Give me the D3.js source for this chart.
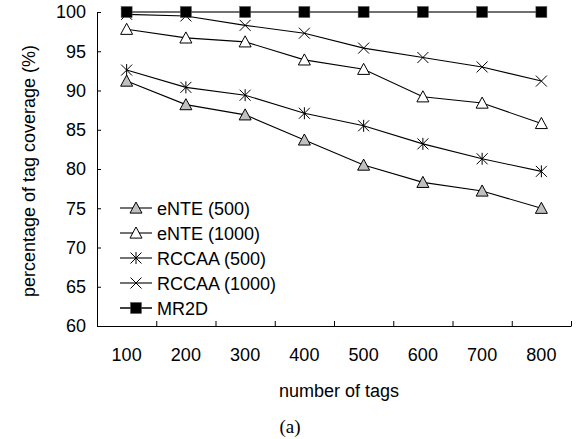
<!DOCTYPE html>
<html><head><meta charset="utf-8">
<script src="https://cdn.jsdelivr.net/npm/d3@7"></script>
<style>
body{margin:0;background:#fff;}
text{font-family:"Liberation Sans",Arial,sans-serif;}
</style></head>
<body><svg id="c" width="584" height="439"></svg>
<script>
const categories = ["100","200","300","400","500","600","700","800"];
const eNTE500   = [91.2, 88.2, 86.9, 83.7, 80.5, 78.3, 77.2, 75.0];
const eNTE1000  = [97.8, 96.7, 96.2, 93.9, 92.7, 89.2, 88.4, 85.8];
const RCCAA500  = [92.6, 90.4, 89.4, 87.1, 85.5, 83.2, 81.3, 79.7];
const RCCAA1000 = [99.7, 99.5, 98.3, 97.3, 95.4, 94.2, 93.0, 91.2];
const MR2D      = [100, 100, 100, 100, 100, 100, 100, 100];
const yTicks = [60,65,70,75,80,85,90,95,100];
const seriesNames = ["eNTE (500)","eNTE (1000)","RCCAA (500)","RCCAA (1000)","MR2D"];

const series = [
  {name:seriesNames[0], values:eNTE500,  marker:"triFill"},
  {name:seriesNames[1], values:eNTE1000, marker:"tri"},
  {name:seriesNames[2], values:RCCAA500, marker:"star"},
  {name:seriesNames[3], values:RCCAA1000,marker:"cross"},
  {name:seriesNames[4], values:MR2D,     marker:"square"}
];

const FS = 18;
const svg = d3.select("#c");
const L=97, R=571, T=12, B=326;
const x = d3.scaleBand().domain(categories).range([L,R]).padding(0);
const xEdge = d3.scaleLinear().domain([0,categories.length]).range([L,R]);
const y = d3.scaleLinear().domain([60,100]).range([B,T]);

// y axis
const ya = svg.append("g").attr("transform",`translate(${L},0)`)
  .call(d3.axisLeft(y).tickValues(yTicks).tickSize(-4).tickPadding(11).tickSizeOuter(0));
ya.select(".domain").attr("stroke","#000");
ya.selectAll(".tick line").attr("stroke","#000");
ya.selectAll("text").attr("font-size",FS).attr("fill","#000").attr("font-family","Liberation Sans, Arial, sans-serif");

// x axis ticks (band edges)
const xa = svg.append("g").attr("transform",`translate(0,${B})`)
  .call(d3.axisBottom(xEdge).tickValues(d3.range(1,categories.length+1)).tickSize(-5).tickFormat("").tickSizeOuter(0));
xa.select(".domain").attr("stroke","#000");
xa.selectAll(".tick line").attr("stroke","#000");
// x labels
const xl = svg.append("g").attr("transform",`translate(0,${B})`)
  .call(d3.axisBottom(x).tickSize(0).tickPadding(22));
xl.select(".domain").remove();
xl.selectAll("text").attr("font-size",FS).attr("fill","#000").attr("font-family","Liberation Sans, Arial, sans-serif");

// axis titles
svg.append("text").attr("x",339).attr("y",397).attr("text-anchor","middle")
  .attr("font-size",FS).text("number of tags");
svg.append("text").attr("transform",`translate(35,171) rotate(-90)`)
  .attr("text-anchor","middle").attr("font-size",FS).text("percentage of tag coverage (%)");
svg.append("text").attr("x",290).attr("y",433).attr("text-anchor","middle")
  .attr("font-size",19).style("font-family","'Liberation Serif','DejaVu Serif',serif").text("(a)");

function drawMarker(g, type, cx, cy){
  if(type==="triFill"||type==="tri"){
    const s=6;
    g.append("path").attr("d",`M${cx},${cy-s}L${cx+s},${cy+s*0.85}L${cx-s},${cy+s*0.85}Z`)
      .attr("fill",type==="triFill"?"#c0c0c0":"#fff").attr("stroke","#000").attr("stroke-width",1);
  } else if(type==="star"){
    const s=5.5;
    g.append("path").attr("d",`M${cx-s},${cy-s}L${cx+s},${cy+s}M${cx-s},${cy+s}L${cx+s},${cy-s}M${cx},${cy-s-0.5}L${cx},${cy+s+0.5}`)
      .attr("stroke","#000").attr("stroke-width",1).attr("fill","none");
  } else if(type==="cross"){
    const s=5.5;
    g.append("path").attr("d",`M${cx-s},${cy-s}L${cx+s},${cy+s}M${cx-s},${cy+s}L${cx+s},${cy-s}`)
      .attr("stroke","#000").attr("stroke-width",1).attr("fill","none");
  } else if(type==="square"){
    const s=5.5;
    g.append("rect").attr("x",cx-s).attr("y",cy-s).attr("width",2*s).attr("height",2*s)
      .attr("fill","#000").attr("stroke","#555").attr("stroke-width",0.5);
  }
}

const line = d3.line().x((d,i)=>x(categories[i])+x.bandwidth()/2).y(d=>y(d));
series.forEach(s=>{
  const g = svg.append("g");
  g.append("path").attr("d",line(s.values)).attr("fill","none")
    .attr("stroke", s.marker==="square"?"#707070":"#000")
    .attr("stroke-width", s.marker==="square"?2:1.1);
  s.values.forEach((v,i)=>drawMarker(g,s.marker,x(categories[i])+x.bandwidth()/2,y(v)));
});

// legend
const lg = svg.append("g");
series.forEach((s,i)=>{
  const yy = 208 + i*25;
  const g = lg.append("g");
  g.append("line").attr("x1",120).attr("x2",152).attr("y1",yy).attr("y2",yy)
    .attr("stroke","#000").attr("stroke-width",s.marker==="square"?1.5:1.1);
  drawMarker(g,s.marker,136,yy);
  g.append("text").attr("x",157).attr("y",yy+6.5).attr("font-size",FS).text(s.name);
});
</script>
</body></html>
